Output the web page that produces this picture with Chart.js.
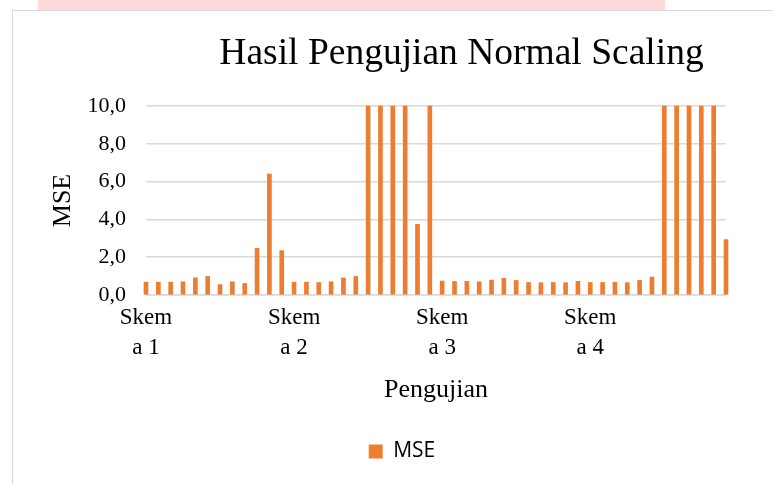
<!DOCTYPE html>
<html>
<head>
<meta charset="utf-8">
<script src="https://cdn.jsdelivr.net/npm/chart.js@4/dist/chart.umd.min.js"></script>
<style>
  html, body { margin: 0; padding: 0; background: #ffffff; }
  body { width: 773px; height: 484px; position: relative; overflow: hidden; }
  #pink { position: absolute; left: 38px; top: 0; width: 627px; height: 10px; background: #ffd9dc; }
  #frameTop { position: absolute; left: 12px; top: 10px; width: 761px; height: 1px; background: #d9d9d9; }
  #frameLeft { position: absolute; left: 12px; top: 10px; width: 1px; height: 474px; background: #d9d9d9; }
  #wrap { position: absolute; left: 44px; top: 15px; width: 716px; height: 469px; }
</style>
</head>
<body>
<div id="pink"></div>
<div id="frameTop"></div>
<div id="frameLeft"></div>
<div id="wrap"><canvas id="c"></canvas></div>
<script>
// ---- data ----
const chartTitle = 'Hasil Pengujian Normal Scaling';
const seriesName = 'MSE';
const xAxisTitle = 'Pengujian';
const yAxisTitle = 'MSE';
const categories = [
  '1','2','3','4','5','6','7','8','9','10','11','12',
  '13','14','15','16','17','18','19','20','21','22','23','24',
  '25','26','27','28','29','30','31','32','33','34','35','36',
  '37','38','39','40','41','42','43','44','45','46','47','48'
];
const mseValues = [
  0.68, 0.68, 0.68, 0.70, 0.91, 0.98, 0.55, 0.70, 0.61, 2.47, 6.40, 2.35,
  0.68, 0.68, 0.66, 0.70, 0.90, 0.98, 10.0, 10.0, 10.0, 10.0, 3.74, 10.0,
  0.74, 0.72, 0.72, 0.70, 0.79, 0.88, 0.77, 0.66, 0.65, 0.66, 0.65, 0.72,
  0.66, 0.66, 0.68, 0.65, 0.77, 0.95, 10.0, 10.0, 10.0, 10.0, 10.0, 2.93
];
const xTickIndexes = [0, 12, 24, 36];
const xTickLabels = [['Skem', 'a 1'], ['Skem', 'a 2'], ['Skem', 'a 3'], ['Skem', 'a 4']];
const yTickValues = [0, 2, 4, 6, 8, 10];
const yTickLabels = ['0,0', '2,0', '4,0', '6,0', '8,0', '10,0'];

const SERIF = "'Liberation Serif', 'Times New Roman', serif";
const ORANGE = '#ED7D31';
const GRID = '#d9d9d9';

const titlePlugin = {
  id: 'customTitle',
  afterDraw(chart) {
    const ctx = chart.ctx;
    ctx.save();
    ctx.fillStyle = '#000000';
    ctx.font = '37.5px ' + SERIF;
    ctx.textAlign = 'center';
    ctx.textBaseline = 'alphabetic';
    ctx.fillText(chartTitle, 417.5, 48.5);
    ctx.restore();
  }
};

new Chart(document.getElementById('c'), {
  type: 'bar',
  data: {
    labels: categories,
    datasets: [{
      label: seriesName,
      data: mseValues,
      backgroundColor: ORANGE,
      borderWidth: 0,
      barThickness: 4,
      clip: false,
      yAxisID: 'y'
    }]
  },
  options: {
    responsive: true,
    maintainAspectRatio: false,
    animation: false,
    layout: { padding: { top: 91, right: 0, bottom: 12, left: 0 } },
    plugins: {
      title: { display: false },
      tooltip: { enabled: false },
      legend: {
        display: true,
        position: 'bottom',
        labels: {
          boxWidth: 14,
          boxHeight: 14,
          color: '#000000',
          font: { family: "'Open Sans', 'Noto Sans', sans-serif", size: 21 },
          padding: 10
        }
      }
    },
    scales: {
      x: {
        offset: false,
        grid: { display: false, drawTicks: false },
        border: { display: true, color: GRID, width: 1.5 },
        ticks: {
          autoSkip: false,
          maxRotation: 0,
          minRotation: 0,
          padding: 8,
          color: '#000000',
          font: { family: SERIF, size: 23, lineHeight: 1.3 },
          callback: (v, i) => {
            const k = xTickIndexes.indexOf(i);
            return k >= 0 ? xTickLabels[k] : '';
          }
        },
        title: {
          display: true,
          text: xAxisTitle,
          color: '#000000',
          font: { family: SERIF, size: 26 },
          padding: { top: 4, bottom: 25 }
        }
      },
      y: {
        min: 0,
        max: 10,
        afterBuildTicks: (scale) => { scale.ticks = yTickValues.map(v => ({ value: v })); },
        afterFit: (scale) => { scale.width = 102; },
        grid: { color: GRID, lineWidth: 1.5, drawTicks: false },
        border: { display: false },
        ticks: {
          padding: 20,
          color: '#000000',
          font: { family: SERIF, size: 22 },
          callback: (v) => {
            const k = yTickValues.indexOf(v);
            return k >= 0 ? yTickLabels[k] : '';
          }
        },
        title: {
          display: true,
          text: yAxisTitle,
          color: '#000000',
          font: { family: SERIF, size: 26 },
          padding: 4
        }
      },
      ySpacer: {
        position: 'right',
        display: true,
        grid: { display: false, drawTicks: false },
        border: { display: false },
        ticks: { display: false },
        afterFit: (scale) => { scale.width = 34; }
      }
    }
  },
  plugins: [titlePlugin]
});
</script>
</body>
</html>
